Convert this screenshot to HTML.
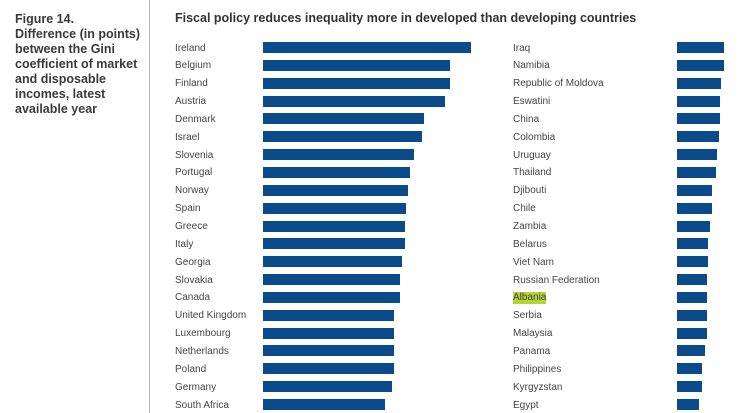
<!DOCTYPE html>
<html><head><style>
body{margin:0;width:750px;height:413px;overflow:hidden;background:#fff;font-family:"Liberation Sans",sans-serif;position:relative}
.t{position:absolute;left:15px;top:12px;font-size:12.5px;font-weight:bold;color:#3a3a3a;line-height:15px}
.d{position:absolute;left:149px;top:0;width:1px;height:413px;background:#bbb}
.h{position:absolute;left:175px;top:11px;font-size:12.5px;font-weight:bold;color:#333}
.l{position:absolute;font-size:10px;color:#444;line-height:12px}
.b{position:absolute;height:11px;background:#0b4a8b}
</style></head><body>
<div class="t">Figure 14.<br>Difference (in points)<br>between the Gini<br>coefficient of market<br>and disposable<br>incomes, latest<br>available year</div>
<div class="d"></div>
<div class="h">Fiscal policy reduces inequality more in developed than developing countries</div>
<div id="c"></div>
<script>
var L=[["Ireland",471],["Belgium",450],["Finland",450],["Austria",445],["Denmark",424],["Israel",422],["Slovenia",414],["Portugal",410],["Norway",408],["Spain",406],["Greece",405],["Italy",405],["Georgia",402],["Slovakia",400],["Canada",400],["United Kingdom",394],["Luxembourg",394],["Netherlands",394],["Poland",394],["Germany",392],["South Africa",385]];
var R=[["Iraq",724],["Namibia",724],["Republic of Moldova",721],["Eswatini",720],["China",720],["Colombia",719],["Uruguay",717],["Thailand",716],["Djibouti",712],["Chile",712],["Zambia",710],["Belarus",708],["Viet Nam",708],["Russian Federation",707],["Albania",707],["Serbia",707],["Malaysia",707],["Panama",705],["Philippines",702],["Kyrgyzstan",702],["Egypt",699]];
var h="";
for(var i=0;i<21;i++){var y=47.5+i*17.85;
h+='<div class="l" style="left:175px;top:'+(y-5)+'px">'+L[i][0]+'</div><div class="b" style="left:263px;top:'+(y-5.5)+'px;width:'+(L[i][1]-263)+'px"></div>';
var s=R[i][0]=="Albania"?"background:#b5d334;":"";
h+='<div class="l" style="left:513px;top:'+(y-5)+'px;'+s+'">'+R[i][0]+'</div><div class="b" style="left:677px;top:'+(y-5.5)+'px;width:'+(R[i][1]-677)+'px"></div>';}
document.getElementById("c").innerHTML=h;
</script>
</body></html>
